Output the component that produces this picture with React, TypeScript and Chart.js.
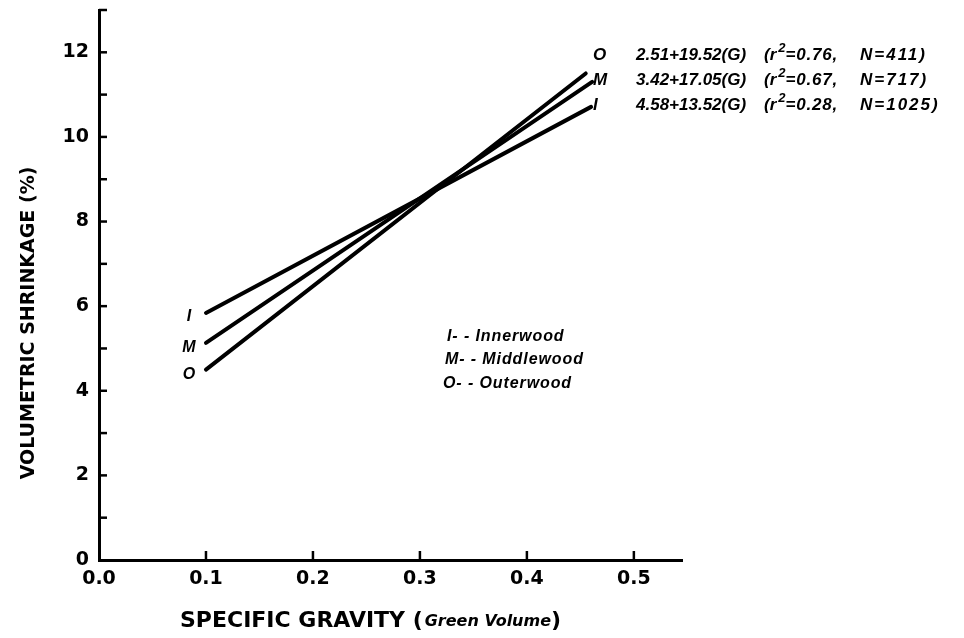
import React, { useEffect, useRef } from 'react';
import { Chart, registerables } from 'chart.js';

Chart.register(...registerables);

// ---- data ----
const seriesKeys = ['I', 'M', 'O'];
const seriesNames = ['Innerwood', 'Middlewood', 'Outerwood'];
const xStart = [0.1, 0.1, 0.1];
const yStart = [5.84, 5.13, 4.5];
const xEnd = [0.46, 0.461, 0.455];
const yEnd = [10.71, 11.3, 11.5];
const equations = ['4.58+13.52(G)', '3.42+17.05(G)', '2.51+19.52(G)'];
const r2Values = ['0.28', '0.67', '0.76'];
const nValues = ['1025', '717', '411'];
const xTickValues = [0, 0.1, 0.2, 0.3, 0.4, 0.5];
const yTickValues = [0, 1, 2, 3, 4, 5, 6, 7, 8, 9, 10, 11, 12, 13];
const yLabelledTicks = [0, 2, 4, 6, 8, 10, 12];
const xTitleMain = 'SPECIFIC GRAVITY';
const xTitleSub = 'Green Volume';
const yTitle = 'VOLUMETRIC SHRINKAGE (%)';

const TICK_FONT = 'DejaVu Sans';
const NOTE_FONT = '"Liberation Sans", Arial, sans-serif';

// row positions for annotations (styles, not data)
const eqRowY: Record<string, number> = { O: 55, M: 80, I: 105 };
const startLabelY: Record<string, number> = { I: 317, M: 348, O: 375 };
const legendRowY: Record<string, number> = { I: 337, M: 360, O: 384 };

const annotations = {
  id: 'annotations',
  afterDraw(chart: any) {
    const { ctx, chartArea, scales } = chart;
    const xs = scales.x;
    const ys = scales.y;
    ctx.save();
    ctx.strokeStyle = '#000';
    ctx.fillStyle = '#000';
    ctx.lineWidth = 2.5;
    ctx.lineCap = 'butt';
    // inward ticks on y
    yTickValues.forEach((v) => {
      if (v === 0) return;
      const py = ys.getPixelForValue(v);
      ctx.beginPath();
      ctx.moveTo(chartArea.left, py);
      ctx.lineTo(chartArea.left + 8, py);
      ctx.stroke();
    });
    // inward ticks on x
    xTickValues.forEach((v) => {
      if (v === 0) return;
      const px = xs.getPixelForValue(v);
      ctx.beginPath();
      ctx.moveTo(px, chartArea.bottom);
      ctx.lineTo(px, chartArea.bottom - 9);
      ctx.stroke();
    });

    const setSpacing = (s: string) => {
      try {
        (ctx as any).letterSpacing = s;
      } catch (e) {
        /* ignore */
      }
    };

    ctx.textBaseline = 'middle';
    // labels at line starts
    ctx.font = `italic bold 16px ${NOTE_FONT}`;
    ctx.textAlign = 'center';
    seriesKeys.forEach((k) => {
      ctx.fillText(k, 189, startLabelY[k]);
    });

    // equations at line ends
    ctx.textAlign = 'left';
    seriesKeys.forEach((k, i) => {
      const y = eqRowY[k];
      setSpacing('0px');
      ctx.font = `italic bold 17px ${NOTE_FONT}`;
      ctx.fillText(k, 593, y);
      ctx.fillText(equations[i], 636, y);
      let x = 764;
      ctx.fillText('(r', x, y);
      x += ctx.measureText('(r').width + 2;
      ctx.font = `italic bold 13px ${NOTE_FONT}`;
      ctx.fillText('2', x, y - 7);
      x += ctx.measureText('2').width;
      ctx.font = `italic bold 17px ${NOTE_FONT}`;
      setSpacing('0.8px');
      ctx.fillText('=' + r2Values[i] + ',', x, y);
      setSpacing('2px');
      ctx.fillText('N=' + nValues[i] + ')', 860, y);
      setSpacing('0px');
    });

    // key in the middle
    ctx.font = `italic bold 16px ${NOTE_FONT}`;
    setSpacing('0.9px');
    seriesKeys.forEach((k, i) => {
      ctx.fillText(`${k}- - ${seriesNames[i]}`, 447 - i * 2, legendRowY[k]);
    });
    setSpacing('0px');

    // x title
    let tx = 180;
    const ty = 621;
    ctx.font = `bold 22px ${TICK_FONT}`;
    const main = xTitleMain + ' (';
    ctx.fillText(main, tx, ty);
    tx += ctx.measureText(main).width + 2;
    ctx.font = `italic bold 16px ${TICK_FONT}`;
    ctx.fillText(xTitleSub, tx, ty + 1);
    tx += ctx.measureText(xTitleSub).width;
    ctx.font = `bold 22px ${TICK_FONT}`;
    ctx.fillText(')', tx, ty);

    // y title
    ctx.translate(29, 323);
    ctx.rotate(-Math.PI / 2);
    ctx.textAlign = 'center';
    ctx.font = `bold 19px ${TICK_FONT}`;
    ctx.fillText(yTitle, 0, 0);
    ctx.restore();
  },
};

export default function App() {
  const ref = useRef<HTMLCanvasElement | null>(null);
  useEffect(() => {
    if (!ref.current) return;
    const datasets = seriesKeys.map((k, i) => ({
      label: seriesNames[i],
      data: [
        { x: xStart[i], y: yStart[i] },
        { x: xEnd[i], y: yEnd[i] },
      ],
      borderColor: '#000',
      borderWidth: 4,
      pointRadius: 0,
      fill: false,
      borderCapStyle: 'round' as const,
    }));
    const chart = new Chart(ref.current, {
      type: 'line',
      data: { datasets },
      options: {
        animation: false,
        responsive: false,
        devicePixelRatio: 1,
        layout: { padding: { top: 10, right: 282, left: 0, bottom: 0 } },
        plugins: { legend: { display: false }, tooltip: { enabled: false } },
        scales: {
          x: {
            type: 'linear',
            min: 0,
            max: 0.545,
            afterBuildTicks: (s: any) => {
              s.ticks = xTickValues.map((v) => ({ value: v }));
            },
            afterFit: (s: any) => {
              s.height = 78;
              s.paddingLeft = 0;
              s.paddingRight = 0;
            },
            ticks: {
              callback: (v: any) => Number(v).toFixed(1),
              font: { family: TICK_FONT, weight: 'bold', size: 19 },
              color: '#000',
              padding: 8,
              autoSkip: false,
              maxRotation: 0,
            },
            grid: { display: false, drawTicks: false },
            border: { display: true, color: '#000', width: 3 },
          },
          y: {
            type: 'linear',
            min: 0,
            max: 13,
            afterBuildTicks: (s: any) => {
              s.ticks = yTickValues.map((v) => ({ value: v }));
            },
            afterFit: (s: any) => {
              s.width = 99;
              s.paddingTop = 0;
              s.paddingBottom = 0;
            },
            ticks: {
              callback: (v: any) => (yLabelledTicks.includes(Number(v)) ? String(v) : ''),
              font: { family: TICK_FONT, weight: 'bold', size: 19 },
              color: '#000',
              padding: 10,
              autoSkip: false,
            },
            grid: { display: false, drawTicks: false },
            border: { display: true, color: '#000', width: 3 },
          },
        },
      },
      plugins: [annotations],
    });
    return () => chart.destroy();
  }, []);
  return (
    <div style={{ position: 'absolute', left: 0, top: 0, width: 964, height: 638, background: '#fff' }}>
      <canvas ref={ref} width={964} height={638} style={{ display: 'block' }} />
    </div>
  );
}
